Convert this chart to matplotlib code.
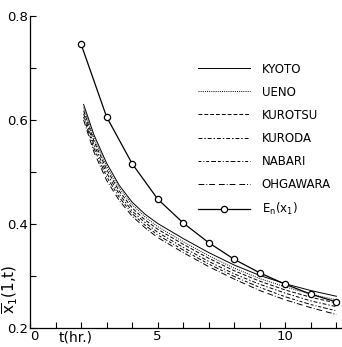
import matplotlib
matplotlib.use('Agg')
import matplotlib.pyplot as plt
import numpy as np

plt.rcParams['font.family'] = ['DejaVu Sans']
plt.rcParams['mathtext.fontset'] = 'dejavusans'

# ── 데이터 ───────────────────────────────────────────────────────────────
t_st = [2.1, 2.5, 3, 3.5, 4, 4.5, 5, 6, 7, 8, 9, 10, 11, 12]
kyoto    = [0.630, 0.572, 0.517, 0.474, 0.442, 0.419, 0.401, 0.372, 0.345, 0.321, 0.301, 0.285, 0.272, 0.261]
ueno     = [0.624, 0.566, 0.511, 0.469, 0.437, 0.414, 0.395, 0.366, 0.339, 0.315, 0.295, 0.279, 0.265, 0.254]
kurotsu  = [0.618, 0.560, 0.505, 0.463, 0.431, 0.408, 0.390, 0.361, 0.334, 0.310, 0.290, 0.273, 0.259, 0.248]
kuroda   = [0.612, 0.553, 0.498, 0.457, 0.425, 0.403, 0.384, 0.355, 0.328, 0.304, 0.284, 0.267, 0.252, 0.241]
nabari   = [0.606, 0.546, 0.491, 0.451, 0.420, 0.398, 0.379, 0.350, 0.323, 0.299, 0.278, 0.260, 0.245, 0.233]
ohgawara = [0.600, 0.539, 0.484, 0.445, 0.415, 0.393, 0.374, 0.345, 0.318, 0.294, 0.272, 0.254, 0.239, 0.226]

t_en = [2, 3, 4, 5, 6, 7, 8, 9, 10, 11, 12]
en   = [0.746, 0.606, 0.516, 0.448, 0.402, 0.364, 0.332, 0.306, 0.284, 0.265, 0.250]

stations = [
    ('KYOTO',    kyoto,    '-'),
    ('UENO',     ueno,     (0, (1, 1.2))),
    ('KUROTSU',  kurotsu,  (0, (4, 2))),
    ('KURODA',   kuroda,   (0, (4, 2, 1.5, 2))),
    ('NABARI',   nabari,   (0, (3, 2, 1, 2, 3, 2, 5, 2))),
    ('OHGAWARA', ohgawara, (0, (6, 2, 1, 2, 6, 4))),
]

fig = plt.figure(figsize=(3.42, 3.47), dpi=100)
ax = fig.add_axes([0.0877, 0.0548, 0.911, 0.899])

for name, vals, ls in stations:
    ax.plot(t_st, vals, color='black', lw=0.7, ls=ls, label=name)
ax.plot(t_en, en, color='black', lw=0.9, marker='o', ms=4.5,
        mfc='white', mec='black', mew=0.9, label=r'E$_{\rm n}$(x$_1$)')

ax.set_xlim(0, 12.2)
ax.set_ylim(0.2, 0.8)
ax.set_xticks(np.arange(0, 13, 1))
ax.set_xticklabels(['0' if i == 0 else str(i) if i in (5, 10) else '' for i in range(13)])
ax.set_yticks(np.arange(0.2, 0.81, 0.1))
ax.set_yticklabels(['0.2', '', '0.4', '', '0.6', '', '0.8'])
ax.tick_params(direction='in', length=4, width=0.8, labelsize=9.5, pad=1.5)
for lab in ax.get_xticklabels():
    if lab.get_text() == '0':
        lab.set_horizontalalignment('left')

ax.spines[['top', 'right']].set_visible(False)
ax.spines[['left', 'bottom']].set_linewidth(0.9)

ax.set_xlabel('t(hr.)', fontsize=10, va='center')
ax.xaxis.set_label_coords(0.147, -0.032)
ax.set_ylabel(r'$\overline{\mathrm{x}}_1$(1,t)', fontsize=11, va='center')
ax.yaxis.set_label_coords(-0.062, 0.125)

ax.legend(loc='upper right', bbox_to_anchor=(1.0, 0.885), frameon=False,
          fontsize=8.5, handlelength=4.4, handletextpad=1.0, labelspacing=0.85)

plt.savefig('out.png', dpi=100)
plt.close()
